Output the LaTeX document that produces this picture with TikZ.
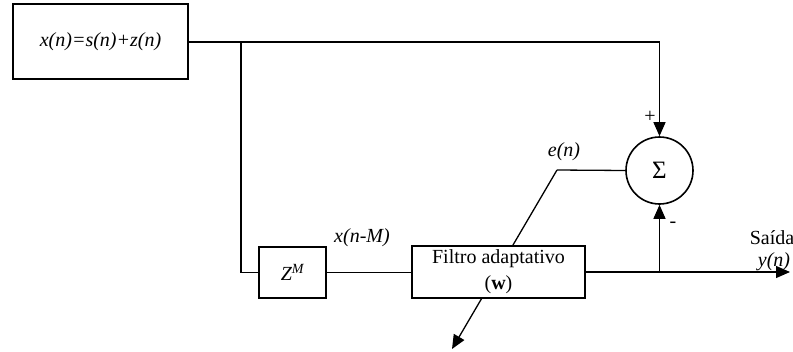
\documentclass[tikz,border=0pt]{standalone}
\usepackage{fontspec}
\setmainfont{Liberation Serif}
\usetikzlibrary{arrows.meta}
\begin{document}
\begin{tikzpicture}[x=1pt,y=-1pt,
  blk/.style={draw,line width=1.6pt,fill=white,inner sep=0pt},
  wire/.style={line width=1.3pt},
  arr/.style={wire,-{Triangle[length=14pt,width=12pt]}},
  lbl/.style={font=\fontsize{20}{22}\selectfont\itshape,inner sep=0pt}]
\useasboundingbox (0,0) rectangle (793,351);
% diagonal adaptation arrow (drawn first, hidden by filter box)
\coordinate (knee) at (557,170);
\coordinate (tip) at (452,349);
\draw[arr] (knee) -- (tip);
\node[blk,minimum width=175pt,minimum height=75pt,font=\fontsize{20}{22}\selectfont\itshape] (in) at (100.5,41.5) {x(n)=s(n)+z(n)};
\node[blk,minimum width=67pt,minimum height=51pt,font=\fontsize{20}{22}\selectfont\itshape] (zm) at (292.5,272.5) {Z\textsuperscript{M}};
\node[blk,minimum width=173pt,minimum height=52pt,align=center,font=\fontsize{20}{26}\selectfont] (filt) at (498.5,272) {Filtro adaptativo\\(\textbf{w})};
\node[draw,circle,line width=1.6pt,minimum size=67pt,inner sep=0pt,font=\fontsize{25}{26}\selectfont] (sum) at (659.5,170.5) {Σ};
\coordinate (s1) at (241,42);
\coordinate (c1) at (659.5,42);
\coordinate (s2) at (241,272.5);
\coordinate (s3) at (659.5,272);
\coordinate (out) at (790,272);
% connections
\draw[wire] (in.east |- s1) -- (c1);
\draw[arr] (c1) -- (sum.north);
\draw[wire] (s1) -- (s2) -- (zm.west);
\draw[wire] (zm.east) -- (filt.west |- zm.east);
\draw[arr] (filt.east |- s3) -- (out);
\draw[arr] (s3) -- (sum.south);
\draw[wire] (sum.west) -- (knee);
% labels
\node[lbl] (en) at (564,152) {e(n)};
\node[lbl] (xm) at (362,238) {x(n-M)};
\node[font=\fontsize{20}{20}\selectfont,inner sep=0pt] (plus) at (650,117) {+};
\node[font=\fontsize{20}{20}\selectfont,inner sep=0pt] (minus) at (673,225) {-};
\node[inner sep=0pt,font=\fontsize{20}{22}\selectfont] (sai) at (772,238) {Saída};
\node[lbl] (yn) at (774,262) {y(n)};
\end{tikzpicture}
\end{document}
